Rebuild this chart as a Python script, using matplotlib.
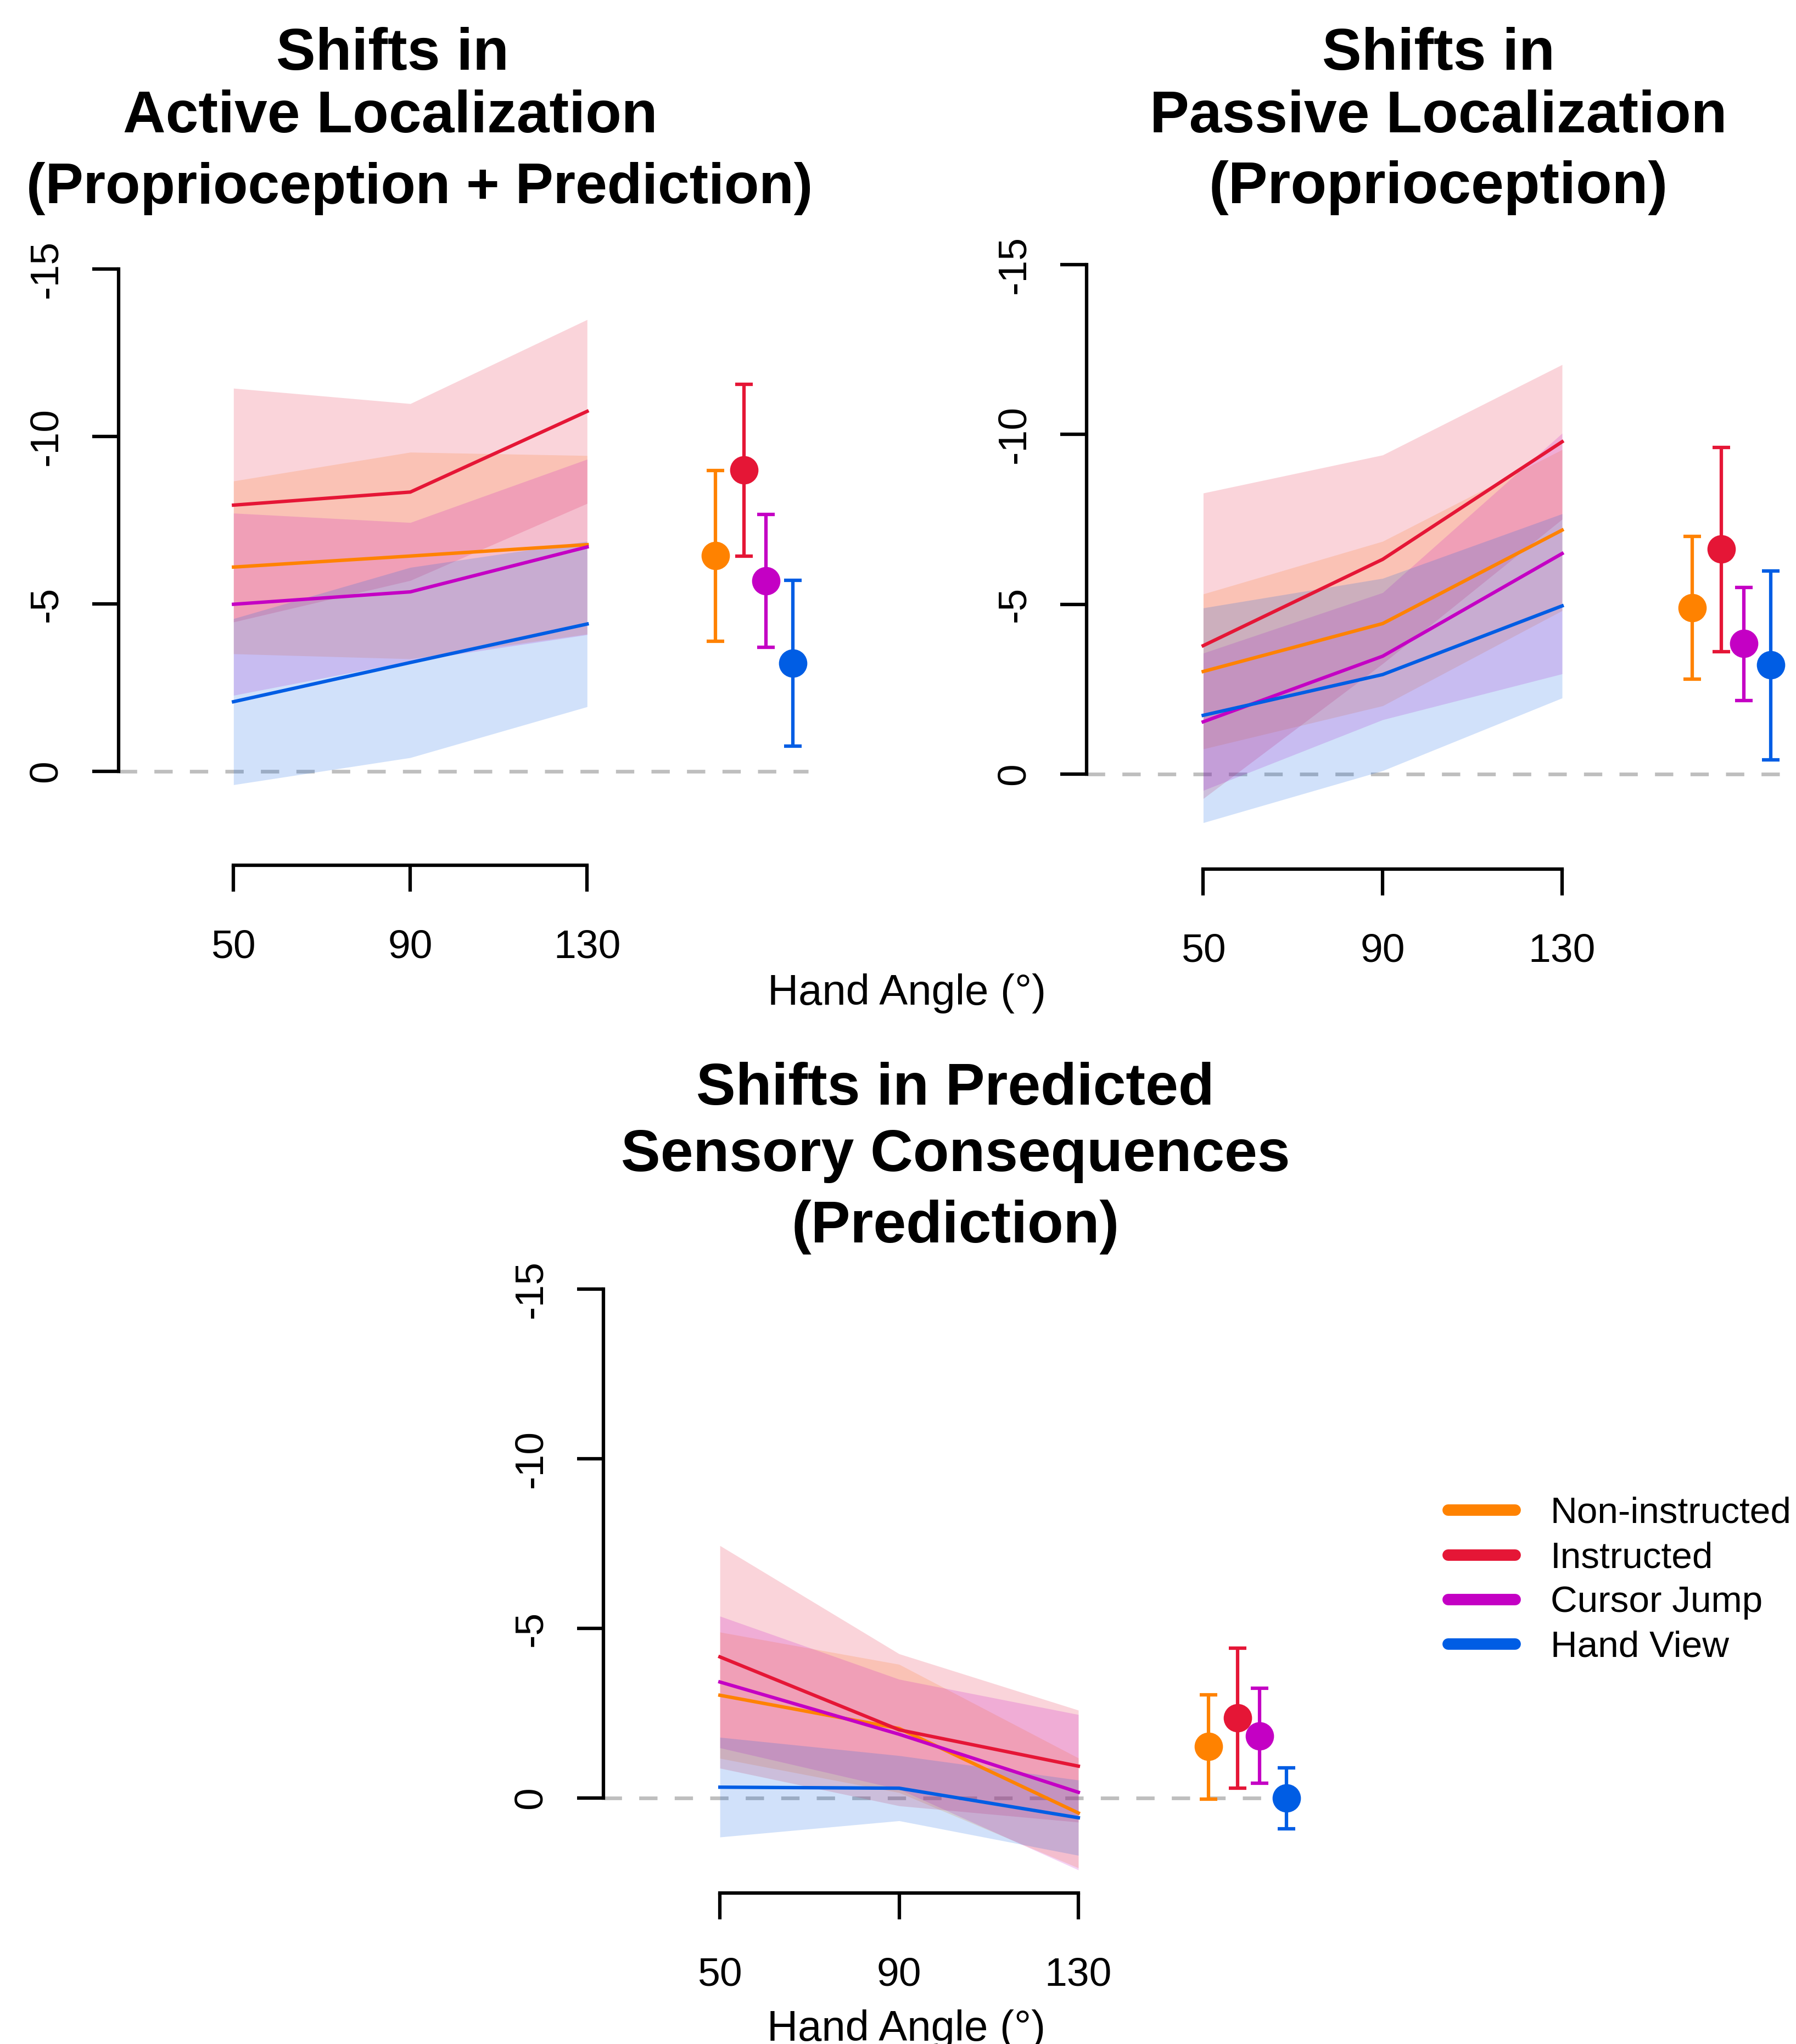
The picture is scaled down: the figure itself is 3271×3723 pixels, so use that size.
import matplotlib
matplotlib.use('Agg')
import matplotlib.pyplot as plt
from matplotlib.lines import Line2D

plt.rcParams['font.family'] = ['Liberation Sans', 'DejaVu Sans']

groups = ['Non-instructed', 'Instructed', 'Cursor Jump', 'Hand View']
colors = ['#ff8200', '#e51636', '#c400c4', '#005de4']
angles = [50, 90, 130]
point_x = [159, 165.5, 170.5, 176.5]

# active localization: mean per hand angle and 95% CI band
active_mean = [[-6.10, -6.43, -6.77], [-7.95, -8.34, -10.75],
               [-4.99, -5.36, -6.70], [-2.08, -3.25, -4.40]]
active_lo = [[-3.51, -3.36, -4.10], [-4.46, -5.70, -8.00],
             [-2.27, -3.29, -4.08], [0.40, -0.41, -1.93]]
active_hi = [[-8.67, -9.53, -9.43], [-11.44, -10.98, -13.49],
             [-7.71, -7.43, -9.32], [-4.56, -6.09, -6.87]]
active_pt = [-6.44, -9.00, -5.69, -3.23]
active_pt_lo = [-3.90, -6.44, -3.71, -0.76]
active_pt_hi = [-8.99, -11.57, -7.67, -5.70]

# passive localization
passive_mean = [[-3.02, -4.43, -7.18], [-3.78, -6.32, -9.78],
                [-1.54, -3.47, -6.49], [-1.73, -2.93, -4.95]]
passive_lo = [[-0.74, -2.01, -4.81], [0.72, -3.25, -7.50],
              [0.48, -1.60, -2.95], [1.43, -0.10, -2.24]]
passive_hi = [[-5.30, -6.85, -9.55], [-8.27, -9.39, -12.05],
              [-3.56, -5.34, -10.03], [-4.89, -5.76, -7.66]]
passive_pt = [-4.90, -6.62, -3.84, -3.21]
passive_pt_lo = [-2.80, -3.63, -2.19, -0.44]
passive_pt_hi = [-7.00, -9.63, -5.52, -6.00]

# predicted sensory consequences
predict_mean = [[-3.03, -2.05, 0.44], [-4.16, -2.01, -0.94],
                [-3.42, -1.88, -0.17], [-0.32, -0.29, 0.58]]
predict_lo = [[-1.17, -0.16, 2.06], [-0.88, 0.23, 0.71],
              [-1.48, -0.26, 2.12], [1.15, 0.67, 1.69]]
predict_hi = [[-4.89, -3.94, -1.18], [-7.44, -4.25, -2.59],
              [-5.36, -3.50, -2.46], [-1.79, -1.25, -0.53]]
predict_pt = [-1.52, -2.37, -1.83, 0.00]
predict_pt_lo = [0.00, -0.32, -0.43, 0.89]
predict_pt_hi = [-3.07, -4.45, -3.22, -0.91]

yticks = [0, -5, -10, -15]
ytick_labels = ['0', '-5', '-10', '-15']

W, H = 3271, 3723
fig = plt.figure(figsize=(W / 300, H / 300), dpi=300)

XL = (24, 186)
YL = (2.8, -15.7)
LW = 1.5


def make_axes(left_px, x_unit, zero_px, y_unit):
    width = (XL[1] - XL[0]) * x_unit
    bottom = zero_px + YL[0] * y_unit
    top = zero_px + YL[1] * y_unit
    ax = fig.add_axes([left_px / W, 1 - bottom / H, width / W, (bottom - top) / H])
    ax.set_xlim(XL)
    ax.set_ylim(YL)
    ax.patch.set_alpha(0)
    for s in ['top', 'right']:
        ax.spines[s].set_visible(False)
    ax.spines['left'].set_bounds(-15, 0)
    ax.spines['bottom'].set_bounds(50, 130)
    for s in ['left', 'bottom']:
        ax.spines[s].set_linewidth(LW)
    ax.set_xticks(angles)
    ax.set_xticklabels([str(a) for a in angles])
    ax.set_yticks(yticks)
    ax.set_yticklabels(ytick_labels, rotation=90, va='center')
    ax.tick_params(direction='out', length=11.5, width=LW, labelsize=17.6)
    ax.tick_params(axis='x', pad=16.5)
    ax.tick_params(axis='y', pad=12)
    return ax


def draw_panel(ax, mean, lo, hi, pt, pt_lo, pt_hi):
    ax.hlines(0, XL[0], 180, colors='#bebebe', linestyles=(0, (5, 4.7)), lw=1.6, zorder=0)
    for i in range(4):
        ax.fill_between(angles, lo[i], hi[i], color=colors[i], alpha=0.18, lw=0, zorder=1)
    for i in range(4):
        ax.plot(angles, mean[i], color=colors[i], lw=LW, zorder=2)
    for i in range(4):
        lower = abs(pt[i] - max(pt_lo[i], pt_hi[i]))
        upper = abs(min(pt_lo[i], pt_hi[i]) - pt[i])
        ax.errorbar(point_x[i], pt[i], yerr=[[lower], [upper]], fmt='o', color=colors[i],
                    ms=11.4, mec=colors[i], capsize=3.8, elinewidth=LW, capthick=LW, zorder=3)


ax1 = make_axes(216, 8.05, 1405, 61.0)
draw_panel(ax1, active_mean, active_lo, active_hi, active_pt, active_pt_lo, active_pt_hi)
ax2 = make_axes(1979, 8.17, 1410, 61.9)
draw_panel(ax2, passive_mean, passive_lo, passive_hi, passive_pt, passive_pt_lo, passive_pt_hi)
ax3 = make_axes(1099, 8.16, 3275, 61.8)
draw_panel(ax3, predict_mean, predict_lo, predict_hi, predict_pt, predict_pt_lo, predict_pt_hi)


def ftext(x, y, s, **kw):
    fig.text(x / W, 1 - y / H, s, ha='center', va='baseline', **kw)


tkw = dict(fontsize=25.8, fontweight='bold')
ftext(715, 127, 'Shifts in', **tkw)
ftext(711, 241, 'Active Localization', **tkw)
ftext(764, 370, '(Proprioception + Prediction)', fontsize=24.9, fontweight='bold')
ftext(2620, 127, 'Shifts in', **tkw)
ftext(2620, 241, 'Passive Localization', **tkw)
ftext(2620, 370, '(Proprioception)', **tkw)
ftext(1740, 2012, 'Shifts in Predicted', **tkw)
ftext(1740, 2133, 'Sensory Consequences', **tkw)
ftext(1740, 2263, '(Prediction)', **tkw)

ftext(1652, 1830, 'Hand Angle (°)', fontsize=18.7)
ftext(1651, 3717, 'Hand Angle (°)', fontsize=18.7)

handles = [Line2D([], [], color=c, lw=5, solid_capstyle='round') for c in colors]
fig.legend(handles, groups, loc='upper left', bbox_to_anchor=(2637 / W, 1 - 2726 / H),
           frameon=False, fontsize=16.2, handlelength=1.81, handletextpad=0.96,
           labelspacing=0.285, borderpad=0, borderaxespad=0)

fig.savefig('out.png', dpi=300)
